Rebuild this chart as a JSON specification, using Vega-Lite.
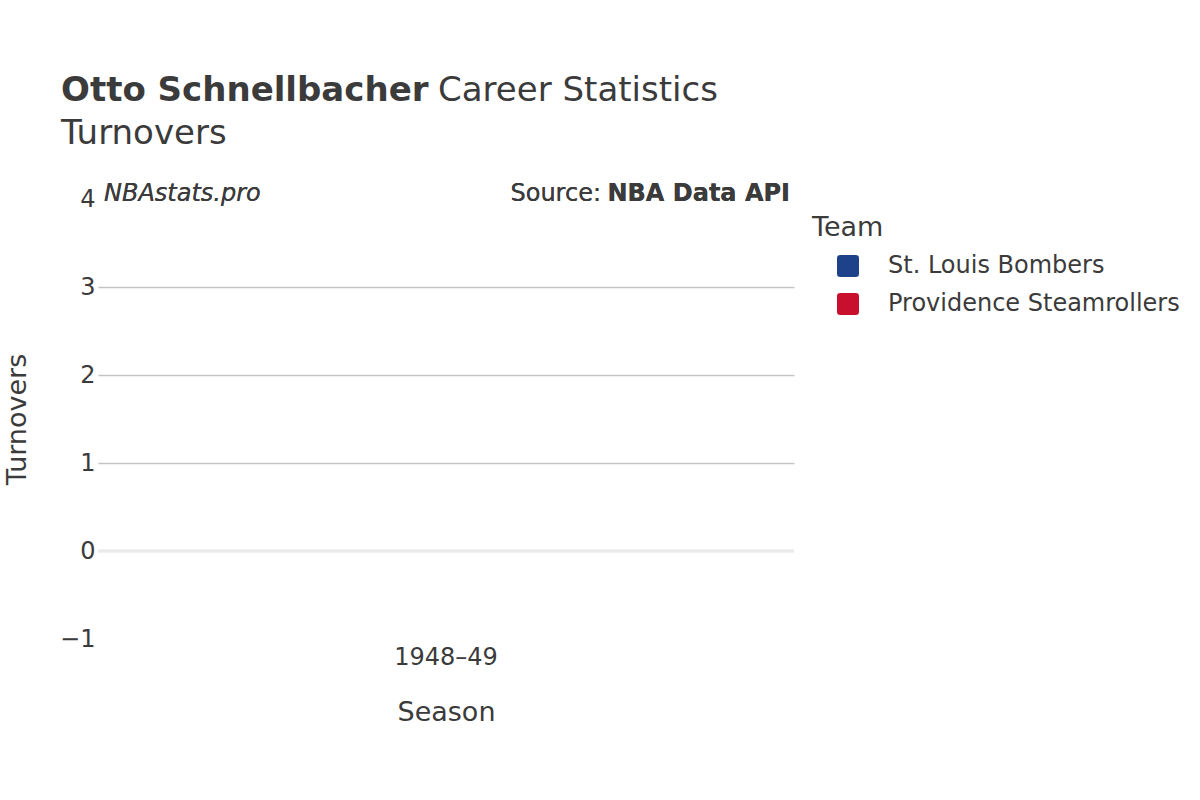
{
  "$schema": "https://vega.github.io/schema/vega-lite/v6.json",
  "width": 696,
  "height": 440,
  "autosize": {"type": "none"},
  "padding": {"left": 98, "top": 199, "right": 406, "bottom": 161},
  "background": "white",
  "title": {
    "text": "Otto Schnellbacher",
    "subtitle": ["\u2800\u2800\u2800\u2800\u2800\u2800\u2800\u2800\u2800\u2800\u2800\u2800\u2800\u2800\u00a0\u00a0\u2009Career Statistics", "Turnovers"],
    "anchor": "start",
    "frame": "group",
    "font": "DejaVu Sans",
    "fontSize": 34,
    "fontWeight": "bold",
    "color": "#3b3b3b",
    "subtitleFont": "DejaVu Sans",
    "subtitleFontSize": 34,
    "subtitleFontWeight": "normal",
    "subtitleColor": "#3b3b3b",
    "subtitleLineHeight": 43,
    "subtitlePadding": -34,
    "dx": -37,
    "offset": 31
  },
  "data": {
    "values": [
      {"season": "1948–49", "team": "St. Louis Bombers", "turnovers": null},
      {"season": "1948–49", "team": "Providence Steamrollers", "turnovers": null}
    ]
  },
  "layer": [
    {
      "mark": {"type": "bar"},
      "encoding": {
        "x": {
          "field": "season",
          "type": "nominal",
          "scale": {"domain": ["1948–49"], "paddingInner": 0, "paddingOuter": 0},
          "axis": {
            "title": "Season",
            "labelAngle": 0,
            "labelFontSize": 24,
            "titleFontSize": 27,
            "labelPadding": 6,
            "titlePadding": 30,
            "ticks": false,
            "domain": false
          }
        },
        "xOffset": {"field": "team"},
        "y": {
          "field": "turnovers",
          "type": "quantitative",
          "scale": {"domain": [-1, 4], "nice": false, "zero": false},
          "axis": {
            "title": "Turnovers",
            "values": [-1, 0, 1, 2, 3, 4],
            "format": "d",
            "labelFontSize": 24,
            "titleFontSize": 27,
            "labelPadding": 3,
            "titlePadding": 28,
            "ticks": false,
            "domain": false,
            "grid": true,
            "gridColor": "#c4c4c4",
            "gridWidth": 1.5,
            "gridOpacity": {"condition": {"test": "datum.value >= 1 && datum.value <= 3", "value": 1}, "value": 0}
          }
        },
        "color": {
          "field": "team",
          "type": "nominal",
          "scale": {
            "domain": ["St. Louis Bombers", "Providence Steamrollers"],
            "range": ["#1d428a", "#c8102e"]
          },
          "legend": {
            "title": "Team",
            "orient": "none",
            "legendX": 714,
            "legendY": 16,
            "titleFontSize": 27,
            "titlePadding": 12,
            "labelFontSize": 24,
            "labelLimit": 400,
            "symbolType": "M -0.7 -1 L 0.7 -1 Q 1 -1 1 -0.7 L 1 0.7 Q 1 1 0.7 1 L -0.7 1 Q -1 1 -1 0.7 L -1 -0.7 Q -1 -1 -0.7 -1 Z",
            "symbolSize": 484,
            "symbolStrokeWidth": 0,
            "symbolOffset": 24,
            "labelOffset": 28,
            "rowPadding": 14
          }
        }
      }
    },
    {
      "mark": {"type": "rule", "color": "#ebebeb", "strokeWidth": 3},
      "encoding": {"y": {"datum": 0}}
    },
    {
      "mark": {"type": "text", "align": "left", "baseline": "alphabetic", "dx": 6, "dy": 2, "fontSize": 24, "fontStyle": "italic", "font": "DejaVu Sans", "color": "#3b3b3b"},
      "encoding": {
        "x": {"datum": "1948–49", "bandPosition": 0},
        "y": {"datum": 4},
        "text": {"value": "NBAstats.pro"}
      }
    },
    {
      "mark": {"type": "text", "align": "right", "baseline": "alphabetic", "dx": -4, "dy": 2, "fontSize": 24, "fontWeight": "bold", "font": "DejaVu Sans", "color": "#3b3b3b"},
      "encoding": {
        "x": {"datum": "1948–49", "bandPosition": 1},
        "y": {"datum": 4},
        "text": {"value": "NBA Data API"}
      }
    },
    {
      "mark": {"type": "text", "align": "right", "baseline": "alphabetic", "dx": -193, "dy": 2, "fontSize": 24, "font": "DejaVu Sans", "color": "#3b3b3b"},
      "encoding": {
        "x": {"datum": "1948–49", "bandPosition": 1},
        "y": {"datum": 4},
        "text": {"value": "Source:"}
      }
    }
  ],
  "config": {
    "view": {"stroke": null},
    "font": "DejaVu Sans",
    "axis": {
      "labelFont": "DejaVu Sans",
      "titleFont": "DejaVu Sans",
      "labelColor": "#3b3b3b",
      "titleColor": "#3b3b3b",
      "titleFontWeight": "normal"
    },
    "legend": {
      "labelFont": "DejaVu Sans",
      "titleFont": "DejaVu Sans",
      "labelColor": "#3b3b3b",
      "titleColor": "#3b3b3b",
      "titleFontWeight": "normal"
    }
  }
}
